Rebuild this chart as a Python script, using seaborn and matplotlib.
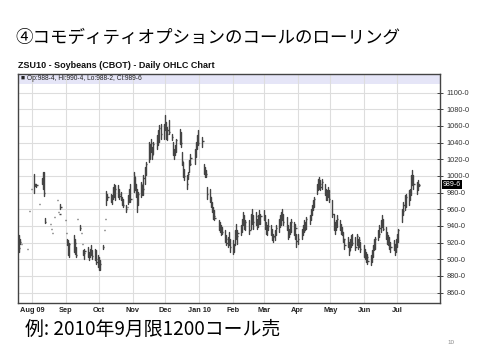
import numpy as np
import pandas as pd
import matplotlib
matplotlib.use("Agg")
import matplotlib.pyplot as plt
import matplotlib.transforms as mtransforms
import seaborn as sns

# ---------------- data ----------------
title = "④コモディティオプションのコールのローリング"
chart_title = "ZSU10 - Soybeans (CBOT) - Daily OHLC Chart"
header = "■ Op:988-4, Hi:990-4, Lo:988-2, Cl:989-6"
last_label = "989-6"
footnote = "例: 2010年9月限1200コール売"
page_no = "10"

holidays = ["2009-09-07", "2009-11-26", "2009-12-25", "2010-01-01", "2010-01-18",
            "2010-02-15", "2010-04-02", "2010-05-31", "2010-07-05"]
first_day, last_day = "2009-07-20", "2010-07-21"

N = None
highs = [
    929, 924, 918, N, N, 913, N, 958, N, 984,                                      # Jul 09
    1003, 990, 991, N, 967, 998, 1005, 1005, 950, N, 942, 937, 932, N, 951, 971, 957, 955, 966, N, 947,  # Aug
    932, 925, 923, 920, 929, 925, 915, 949, 941, 932, 919, 911, 913, 915, 909, 913, 917, 911, 913, 911, 905,  # Sep
    903, 899, 917, 935, 948, 982, 979, 979, 977, 987, 991, 989, 989, 985, 981, 975, 973, 965, 963, 977, 985, 991,  # Oct
    1005, 999, 991, 985, 981, 993, 989, 1001, 1011, 1017, 1041, 1039, 1045, 1035, 1041, 1049, 1055, 1061, 1063, 1063,  # Nov
    1073, 1065, 1059, 1067, 1051, 1041, 1033, 1037, 1045, 1057, 1053, 1029, 1017, 1009, 1001, 1005, 1019, 1027, 1033, 1041, 1049, 1055,  # Dec
    1047, 1015, 1011, 1007, 987, 985, 975, 969, 963, 959, 947, 945, 941, 939, 935, 929, 927, 933, 925,  # Jan 10
    923, 919, 935, 943, 935, 941, 949, 957, 953, 947, 947, 955, 961, 953, 957, 949, 953, 959, 955,  # Feb
    959, 953, 945, 941, 949, 941, 937, 931, 935, 941, 949, 953, 957, 961, 955, 951, 941, 937, 945, 949, 945, 943, 931,  # Mar
    931, 937, 941, 947, 945, 951, 953, 961, 965, 971, 975, 991, 997, 999, 995, 997, 991, 985, 983, 987, 983,  # Apr
    971, 955, 945, 947, 953, 947, 943, 939, 933, 925, 927, 921, 925, 929, 931, 927, 931, 925, 927, 921,  # May
    917, 913, 909, 907, 905, 911, 917, 925, 927, 935, 941, 947, 953, 949, 939, 933, 929, 927, 921, 923, 919, 925,  # Jun
    931, 937, 961, 969, 977, 979, 983, 985, 1001, 1007, 1001, 993, 995, 990.5,  # Jul
]
lows = [
    909, 919, 918, N, N, 913, N, 958, N, 984,
    980, 988, 987, N, 967, 990, 985, 976, 944, N, 942, 937, 932, N, 951, 971, 957, 955, 961, N, 947,
    932, 917, 905, 903, 909, 907, 903, 949, 935, 932, 919, 905, 901, 903, 899, 903, 905, 901, 899, 895, 891,
    887, 887, 913, 935, 948, 965, 971, 969, 967, 973, 975, 971, 975, 973, 971, 965, 963, 957, 963, 967, 969, 969,
    981, 983, 975, 957, 965, 975, 977, 977, 991, 1001, 1017, 1021, 1029, 1021, 1027, 1033, 1037, 1041, 1045, 1045,
    1055, 1045, 1043, 1051, 1043, 1025, 1021, 1025, 1029, 1039, 1035, 1013, 999, 995, 985, 997, 1005, 1013, 1015, 1023, 1033, 1037,
    1035, 1003, 999, 999, 973, 969, 963, 957, 949, 947, 935, 933, 929, 931, 921, 917, 915, 917, 909,
    907, 909, 917, 925, 919, 929, 933, 941, 937, 935, 931, 937, 943, 937, 941, 937, 939, 943, 943,
    947, 937, 931, 929, 935, 929, 923, 921, 923, 929, 933, 939, 941, 947, 941, 935, 925, 927, 931, 933, 929, 925, 915,
    919, 925, 929, 933, 935, 937, 943, 947, 953, 959, 963, 979, 983, 985, 983, 985, 977, 971, 971, 975, 969,
    951, 935, 931, 935, 939, 935, 931, 929, 921, 913, 915, 905, 911, 915, 917, 911, 917, 913, 915, 909,
    903, 901, 897, 895, 893, 897, 903, 911, 913, 923, 927, 933, 939, 935, 925, 919, 917, 913, 909, 911, 905, 909,
    915, 921, 945, 953, 959, 963, 965, 971, 977, 989, 985, 979, 983, 988.25,
]
closes = [
    914, 921, 918, N, N, 913, N, 958, N, 984,
    990, 990, 989, N, 967, 995, 1000, 980, 945, N, 942, 937, 932, N, 951, 971, 957, 955, 963, N, 947,
    932, 920, 910, 918, 912, 920, 905, 949, 938, 932, 919, 908, 910, 905, 906, 910, 907, 904, 901, 897, 893,
    890, 895, 915, 935, 948, 978, 975, 972, 975, 985, 980, 985, 978, 976, 973, 968, 965, 960, 963, 975, 983, 972,
    1000, 990, 980, 970, 978, 990, 985, 998, 1008, 1015, 1035, 1030, 1040, 1025, 1038, 1045, 1050, 1058, 1050, 1060,
    1065, 1050, 1055, 1053, 1047, 1030, 1027, 1035, 1043, 1050, 1040, 1018, 1003, 1000, 990, 1003, 1015, 1022, 1030, 1038, 1045, 1040,
    1042, 1008, 1005, 1002, 978, 975, 967, 960, 952, 950, 940, 937, 935, 933, 925, 920, 922, 920, 915,
    915, 917, 930, 928, 932, 937, 945, 950, 940, 945, 935, 950, 948, 945, 952, 940, 950, 947, 952,
    950, 940, 935, 938, 940, 932, 927, 928, 932, 938, 946, 950, 955, 950, 945, 938, 930, 935, 942, 945, 932, 938, 922,
    925, 930, 938, 935, 942, 948, 950, 958, 962, 968, 972, 988, 992, 990, 987, 993, 980, 975, 980, 978, 972,
    955, 940, 942, 945, 948, 940, 937, 933, 925, 917, 920, 910, 922, 925, 920, 915, 928, 917, 923, 912,
    907, 905, 903, 898, 900, 908, 913, 920, 925, 930, 938, 945, 942, 937, 928, 925, 920, 918, 915, 913, 910, 922,
    928, 935, 958, 965, 970, 975, 980, 983, 998, 995, 990, 985, 990, 989.75,
]
last_close = 989.75

y_ticks = list(range(860, 1101, 20))
month_ticks = ["2009-08-01", "2009-09-01", "2009-10-01", "2009-11-01", "2009-12-01", "2010-01-01",
               "2010-02-01", "2010-03-01", "2010-04-01", "2010-05-01", "2010-06-01", "2010-07-01"]
month_labels = ["Aug 09", "Sep", "Oct", "Nov", "Dec", "Jan 10", "Feb", "Mar", "Apr", "May", "Jun", "Jul"]

# ---------------- build frames ----------------
trade_days = pd.bdate_range(first_day, last_day, freq="C", holidays=holidays)
assert len(trade_days) == len(highs) == len(lows) == len(closes), (len(trade_days), len(highs), len(lows), len(closes))
df = pd.DataFrame({"date": trade_days, "high": highs, "low": lows, "close": closes}).dropna().reset_index(drop=True)
df["bar"] = np.arange(len(df))
long = pd.concat([
    df[["date", "bar"]].assign(price=df["low"]),
    df[["date", "bar"]].assign(price=df["high"]),
])

# ---------------- style ----------------
sns.set_theme(style="white")
plt.rcParams["font.family"] = ["Liberation Sans", "Noto Sans CJK JP", "DejaVu Sans"]

fig = plt.figure(figsize=(4.8, 3.6), dpi=100)
fig.patch.set_facecolor("white")
ax = fig.add_axes([18 / 480, 1 - 303 / 360, (440 - 18) / 480, (303 - 74) / 360])
ax.set_facecolor("white")

bar_color = "#444444"
sns.lineplot(data=long, x="date", y="price", units="bar", estimator=None,
             color=bar_color, linewidth=1.0, ax=ax, legend=False)
tick_len = pd.Timedelta(hours=26)
ax.hlines(df["close"], df["date"], df["date"] + tick_len, color=bar_color, linewidth=1.0)

ax.set_xlim(pd.Timestamp("2009-07-19 04:00"), pd.Timestamp("2010-08-09 10:00"))
ax.set_ylim(847.6, 1122.4)

# header band
ax.axhspan(1111.0, 1122.4, color="#E5E5F7", zorder=0.2, lw=0)
trans_ax_data = mtransforms.blended_transform_factory(ax.transAxes, ax.transData)
ax.text(0.006, 1116.6, header, transform=trans_ax_data, fontsize=4.8, color="#222222",
        va="center", ha="left", family=["Liberation Sans", "DejaVu Sans"])

# axes / ticks
ax.set_xlabel("")
ax.set_ylabel("")
ax.yaxis.tick_right()
ax.set_yticks(y_ticks)
ax.set_yticklabels([f"{v}-0" for v in y_ticks])
ax.set_xticks(pd.to_datetime(month_ticks))
ax.set_xticklabels(month_labels, fontweight="bold")
ax.tick_params(axis="y", which="both", right=True, left=False, direction="inout", length=5,
               width=0.7, color="#444444", labelsize=5.3, pad=2, labelcolor="#333333")
ax.tick_params(axis="x", length=0, labelsize=5.3, pad=3, labelcolor="#222222")
ax.grid(True, color="#DDDDDD", linewidth=0.8)
ax.set_axisbelow(True)
for s in ax.spines.values():
    s.set_color("#444444")
    s.set_linewidth(1.0)
    s.set_visible(True)

# last price box
ax.text(1.006, last_close, last_label, transform=trans_ax_data, fontsize=5, color="white",
        va="center", ha="left", bbox=dict(fc="black", ec="none", pad=0.7))

# texts
fig.text(15 / 480, 1 - 38 / 360, title, fontsize=12.6, color="black", va="center", ha="left",
         family=["Noto Sans CJK JP", "DejaVu Sans"])
fig.text(18 / 480, 1 - 66 / 360, chart_title, fontsize=6.5, fontweight="bold", color="#111111",
         va="center", ha="left")
fig.text(25 / 480, 1 - 329 / 360, footnote, fontsize=13.6, color="black", va="center", ha="left",
         family=["Noto Sans CJK JP", "DejaVu Sans"])
fig.text(447 / 480, 1 - 342 / 360, page_no, fontsize=4.5, color="#888888", va="center", ha="left")

fig.savefig("out.png", dpi=100, facecolor="white")
